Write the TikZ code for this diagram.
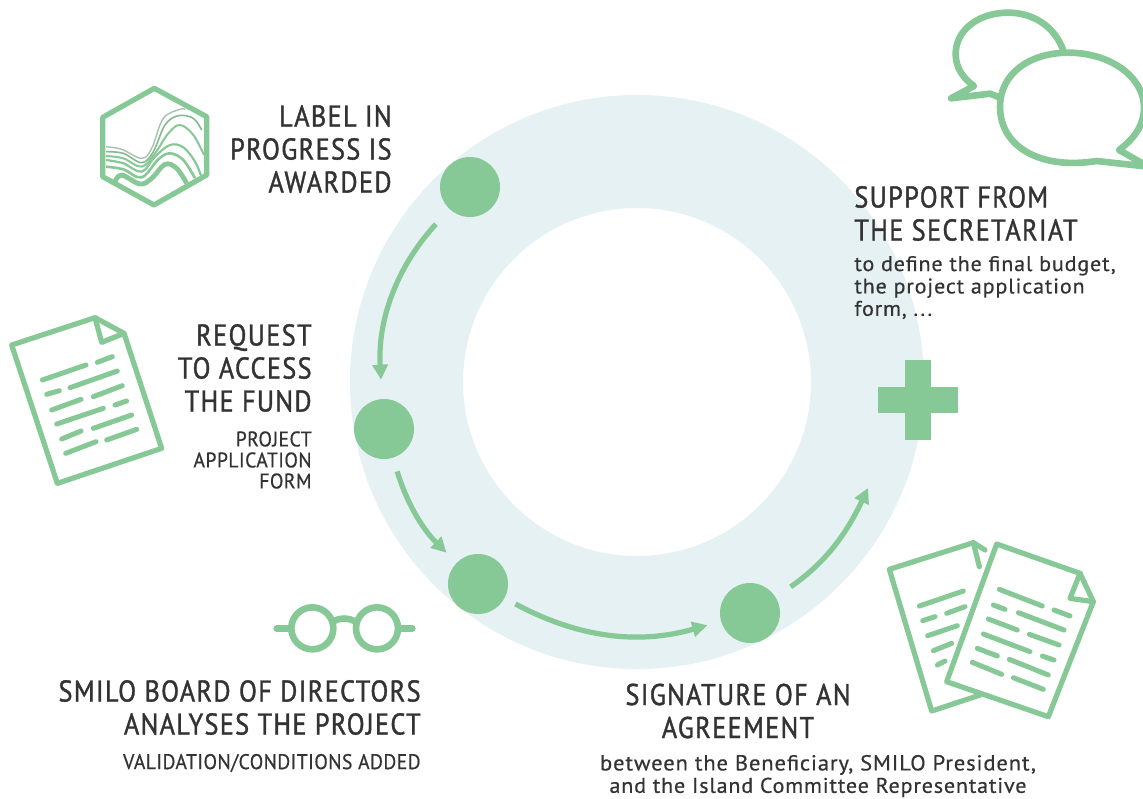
\documentclass[tikz,border=0pt]{standalone}
\usepackage{fontspec}
\usetikzlibrary{arrows.meta}
\setmainfont{PT Sans}
\newfontfamily\headf[FakeStretch=0.875,LetterSpace=4.5,FakeBold=1.2]{PT Sans}
\newfontfamily\subf[FakeStretch=0.93,LetterSpace=2,FakeBold=0.5]{PT Sans}
\newfontfamily\bodyf[FakeStretch=1.04,LetterSpace=4,FakeBold=0.5]{PT Sans}
\definecolor{gr}{HTML}{86C896}
\definecolor{ringc}{HTML}{E5F1F3}
\definecolor{ink}{HTML}{333333}
\tikzset{
  stepdot/.style={circle,fill=gr,draw=none,inner sep=0pt,minimum size=30pt},
  flow/.style={draw=gr,line width=2.6pt,-{Triangle[width=7.5pt,length=7.5pt]}},
  head/.style={inner sep=0pt,text=ink,font=\headf\fontsize{15}{16.5}\selectfont},
  sub/.style={inner sep=0pt,text=ink,font=\subf\fontsize{10.6}{10.5}\selectfont},
  body/.style={inner sep=0pt,text=ink,font=\bodyf\fontsize{10.6}{11.2}\selectfont},
  ic/.style={draw=gr,line width=2.6pt,line join=round,line cap=round},
  thick ic/.style={ic,line width=3.3pt},
  tx/.style={draw=gr,line width=2.5pt,line cap=round},
}
\begin{document}
\begin{tikzpicture}[x=0.5pt,y=-0.5pt]
\useasboundingbox (0,0) rectangle (1143,798);
\clip (0,0) rectangle (1143,798);
\fill[white] (0,0) rectangle (1143,798);
% ring
\fill[ringc,even odd rule] (637,382) circle[radius=287] (637,382) circle[radius=174];
% steps
\node[stepdot] (c1) at (470,187) {};
\node[stepdot] (c2) at (384,429) {};
\node[stepdot] (c3) at (478,584) {};
\node[stepdot] (c4) at (750,613) {};
\coordinate (e5) at (868,488);
\draw[flow,shorten <=10pt,shorten >=9.5pt] (c1) to[bend right=23] (c2);
\draw[flow,shorten <=7pt,shorten >=7pt] (c2) to[bend right=14] (c3);
\draw[flow,shorten <=6pt,shorten >=7pt] (c3) to[bend right=22] (c4);
\draw[flow,shorten <=9pt] (c4) to[bend right=15] (e5);
% plus
\fill[gr] (905,360) rectangle (931,440);
\fill[gr] (878,387) rectangle (958,413);
% texts
\node[head,align=right,anchor=east] (t1) at (392,149) {LABEL IN\\PROGRESS IS\\AWARDED};
\node[head,align=right,anchor=east] (t2) at (312,368) {REQUEST\\TO ACCESS\\THE FUND};
\node[sub,align=right,anchor=east] (t3) at (312,460) {PROJECT\\APPLICATION\\FORM};
\node[head,align=right,anchor=east] (t4) at (421,707.5) {\fontsize{15}{17.5}\selectfont SMILO BOARD OF DIRECTORS\\ANALYSES THE PROJECT};
\node[sub,anchor=east] (t5) at (421,763) {VALIDATION/CONDITIONS ADDED};
\node[head,align=center] (t6) at (738,711) {SIGNATURE OF AN\\AGREEMENT};
\node[body,align=center] (t7) at (818,776) {\fontsize{10.85}{11.2}\selectfont between the Beneficiary, SMILO President,\\and the Island Committee Representative};
\node[head,align=left,anchor=west] (t8) at (854,213.5) {SUPPORT FROM\\THE SECRETARIAT};
\node[body,align=left,anchor=west] (t9) at (854,287.5) {to define the final budget,\\the project application\\form, ...};
% hexagon icon
\begin{scope}[xshift=40pt,yshift=-35pt,x=0.16667pt,y=-0.16667pt]
\draw[ic] (223,55) -- (380,140) -- (380,315) -- (222,405) -- (68,320) -- (68,142) -- cycle;
\draw[draw=gr!55!gray!70,line width=0.7pt] plot[smooth,tension=0.6] coordinates {(78,230) (125,238) (185,265) (215,235) (250,145) (300,118) (315,118)};
\draw[draw=gr!80!gray,line width=0.8pt] plot[smooth,tension=0.6] coordinates {(78,245) (130,250) (185,278) (220,245) (255,165) (295,137) (340,145) (365,180)};
\draw[draw=gr,line width=1pt] plot[smooth,tension=0.6] coordinates {(78,258) (130,265) (185,290) (225,250) (265,190) (300,165) (340,195) (372,255)};
\draw[draw=gr,line width=1.1pt] plot[smooth,tension=0.6] coordinates {(78,270) (130,280) (185,305) (225,260) (270,225) (310,232) (345,275) (365,322)};
\draw[draw=gr,line width=1.3pt] plot[smooth,tension=0.6] coordinates {(78,290) (130,298) (185,322) (235,268) (270,250) (310,270) (345,325)};
\draw[draw=gr,line width=2.4pt] plot[smooth,tension=0.6] coordinates {(105,335) (125,315) (180,342) (215,325) (255,283) (290,295) (320,340)};
\end{scope}
% document icon
\begin{scope}[yshift=-152.5pt,x=0.16667pt,y=-0.16667pt]
\draw[ic] (285,38) -- (35,120) -- (172,535) -- (485,430) -- (372,85) -- cycle;
\draw[ic] (285,38) -- (305,112) -- (372,85);
\foreach \a/\b/\c/\d in {127/225/258/180,292/172/337/155,140/268/178/257,210/248/352/198,155/315/243/283,280/275/367/242,345/300/380/288,170/357/310/310,280/370/395/330,185/402/243/378,320/405/410/373,197/445/288/410}
  \draw[tx] (\a,\b) -- (\c,\d);
\end{scope}
% stacked documents
\begin{scope}[xshift=440pt,yshift=-265pt,x=0.16667pt,y=-0.16667pt]
\draw[ic] (315,60) -- (280,38) -- (28,118) -- (155,543) -- (300,495);
\draw[ic] (280,38) -- (298,110);
\foreach \a/\b/\c/\d in {118/228/250/183,128/272/165/260,200/250/255/230,143/317/232/287,160/362/215/340,172/405/195/393}
  \draw[tx] (\a,\b) -- (\c,\d);
\draw[ic] (350,42) -- (600,130) -- (640,215) -- (505,560) -- (200,455) -- cycle;
\draw[ic] (600,130) -- (570,205) -- (640,215);
\foreach \a/\b/\c/\d in {358/178/487/228,340/225/375/238,415/248/552/300,522/240/570/258,325/267/412/300,448/313/537/345,310/312/450/365,292/355/352/378,487/378/522/390,388/388/505/435,277/397/365/433,400/443/490/478}
  \draw[tx] (\a,\b) -- (\c,\d);
\end{scope}
% speech bubbles
\begin{scope}[xshift=470pt,x=0.16667pt,y=-0.16667pt]
\draw[thick ic] (370,152) .. controls (345,80) and (280,38) .. (205,38) .. controls (110,38) and (45,95) .. (47,165) .. controls (48,205) and (70,235) .. (102,258) -- (33,295) -- (150,281) -- (178,292);
\draw[thick ic] (470,483) .. controls (300,510) and (180,440) .. (180,320) .. controls (180,220) and (270,158) .. (385,158) .. controls (510,158) and (610,230) .. (612,320) .. controls (612,370) and (590,410) .. (537,450) -- (625,500) -- cycle;
\end{scope}
% glasses
\begin{scope}[xshift=132.5pt,yshift=-297.5pt,x=0.16667pt,y=-0.16667pt]
\draw[thick ic] (142,100) circle[radius=63];
\draw[thick ic] (336,100) circle[radius=63];
\draw[thick ic] (35,100) -- (72,100);
\draw[thick ic] (408,100) -- (442,100);
\draw[thick ic] (207,78) .. controls (225,68) and (250,68) .. (268,78);
\end{scope}
\end{tikzpicture}
\end{document}
